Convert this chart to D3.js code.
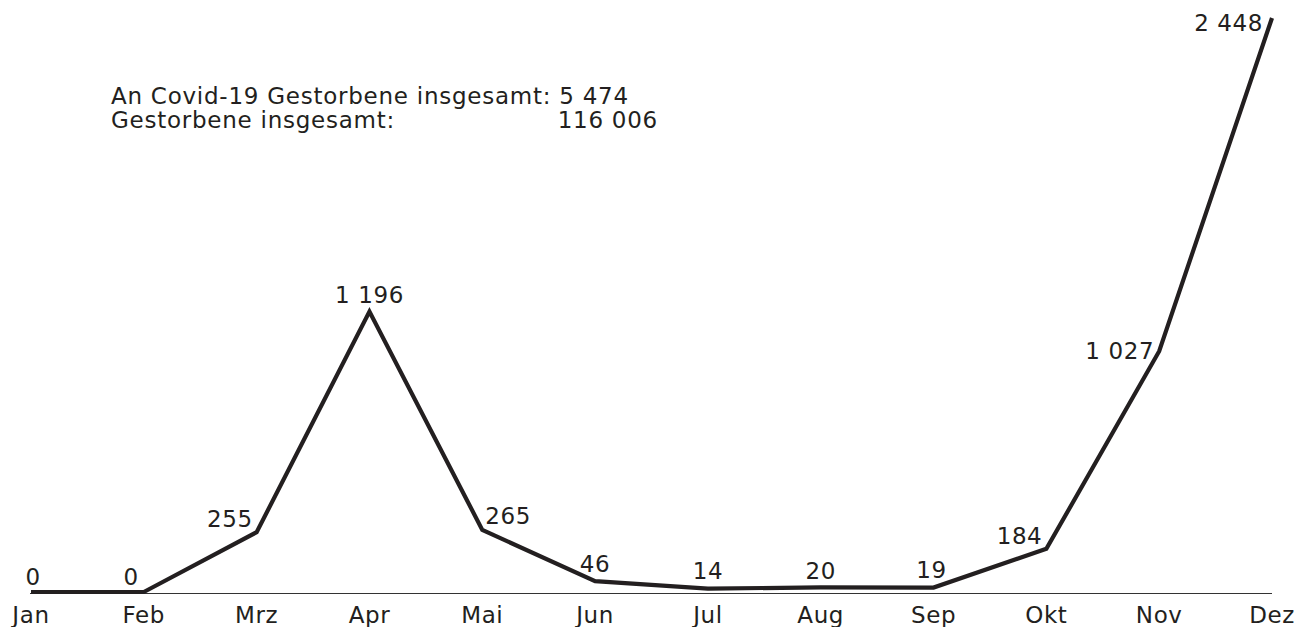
<!DOCTYPE html>
<html><head><meta charset="utf-8">
<script src="https://cdn.jsdelivr.net/npm/d3@7"></script>
<style>body{margin:0;background:#fff}svg{display:block}text{font-family:"DejaVu Sans",sans-serif;fill:#231f20;font-size:23px;letter-spacing:0.6px}text.sum{font-size:23px;letter-spacing:0.75px}</style>
</head><body><svg id="c" width="1306" height="627"></svg>
<script>
const months = ["Jan","Feb","Mrz","Apr","Mai","Jun","Jul","Aug","Sep","Okt","Nov","Dez"];
const deaths = [0,0,255,1196,265,46,14,20,19,184,1027,2448];
const valueLabels = ["0","0","255","1 196","265","46","14","20","19","184","1 027","2 448"];
const summaryLabels = ["An Covid-19 Gestorbene insgesamt:","Gestorbene insgesamt:"];
const summaryValues = ["5 474","116 006"];

// label placement: [anchor, dx, dy]
const labelPos = [
  ["middle",2,-7],["end",-5,-7],["end",-4,-5],["middle",0,-9],["start",3,-6],
  ["middle",0,-9],["middle",0,-10],["middle",0,-8],["middle",-2,-10],
  ["end",-4,-5],["end",-5,8],["end",-9,13]
];

const svg = d3.select("#c");
const x = d3.scalePoint().domain(months).range([31,1272]);
const y = d3.scaleLinear().domain([0,2448]).range([592,18]);

svg.append("line").attr("x1",30).attr("x2",1272).attr("y1",593.5).attr("y2",593.5)
  .attr("stroke","#333").attr("stroke-width",1.2);

const line = d3.line().x((d,i)=>x(months[i])).y(d=>y(d));
svg.append("path").datum(deaths).attr("d",line).attr("fill","none")
  .attr("stroke","#231f20").attr("stroke-width",4.2).attr("stroke-linejoin","miter").attr("stroke-miterlimit",10);

svg.append("g").selectAll("text").data(deaths).join("text")
  .attr("x",(d,i)=>x(months[i])+labelPos[i][1])
  .attr("y",(d,i)=>y(d)+labelPos[i][2])
  .attr("text-anchor",(d,i)=>labelPos[i][0])
  .text((d,i)=>valueLabels[i]);

svg.append("g").selectAll("text").data(months).join("text")
  .attr("x",d=>x(d)).attr("y",623).attr("text-anchor","middle").text(d=>d);

// summary block
const lineY = [104,128];
const st = svg.append("text").attr("class","sum").attr("x",111).attr("y",lineY[0]);
const labTs = summaryLabels.map((t,i)=>st.append("tspan").attr("x",111).attr("y",lineY[i]).text(t));
const valTs = summaryValues.map((t,i)=>st.append("tspan").attr("y",lineY[i]).text(t));
// line 1 value follows the label; line 2 value right-aligned a bit further right
const lab1End = 111 + labTs[0].node().getComputedTextLength();
valTs[0].attr("x", lab1End + 8);
const w2 = valTs[1].node().getComputedTextLength();
valTs[1].attr("x", 658 - w2);
</script></body></html>
